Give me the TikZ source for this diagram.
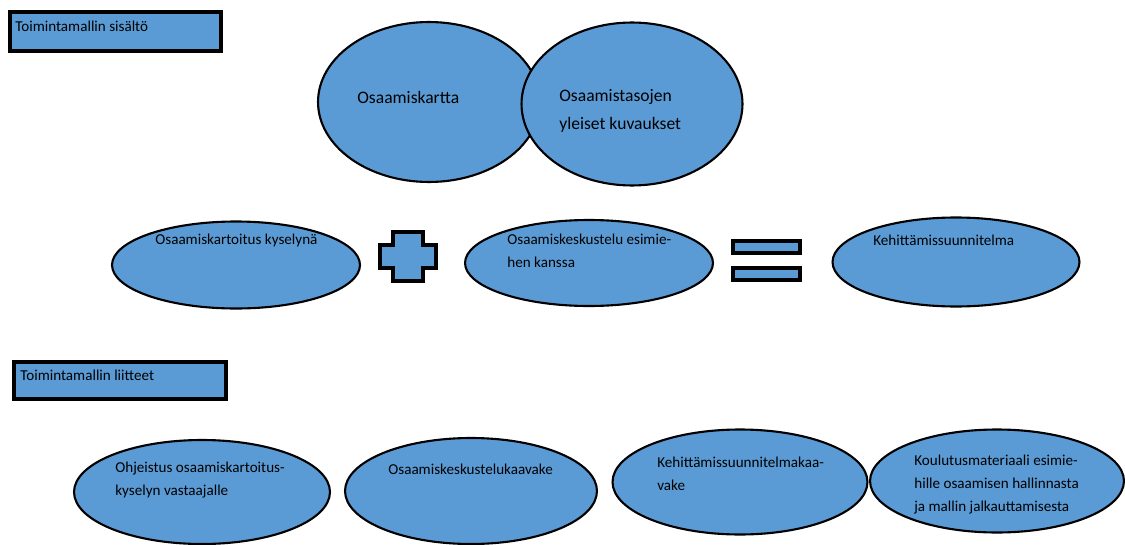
\documentclass[tikz,border=0pt]{standalone}
\usepackage{fontspec}
\setmainfont{Carlito}
\usetikzlibrary{shapes.geometric}
\definecolor{fillblue}{HTML}{5B9BD5}
\newcommand{\px}{0.02cm}

\begin{document}
\begin{tikzpicture}[x = \px, y = -\px,
  oval/.style = {ellipse, draw = black, line width = 1.2pt, fill = fillblue, inner sep = 0pt},
  box/.style = {rectangle, draw = black, line width = 1.8pt, fill = fillblue, inner sep = 0pt},
  txt/.style = {anchor = north west, inner sep = 0pt, align = left, font = \fontsize{8.6}{13}\selectfont},
  bigtxt/.style = {anchor = north west, inner sep = 0pt, align = left, font = \fontsize{10}{16}\selectfont}]

\useasboundingbox (0,0) rectangle (1125,544);

% headings
\node[box, minimum width = 4.22cm, minimum height = 0.78cm] (b1) at (115.5,31.5) {};
\node[txt] (t1) at (15,21) {Toimintamallin sisältö};
\node[box, minimum width = 4.24cm, minimum height = 0.74cm] (b2) at (120,380.5) {};
\node[txt] (t2) at (20,370) {Toimintamallin liitteet};

% top pair
\node[oval, minimum width = 4.44cm, minimum height = 3.2cm] (e1) at (429,102) {};
\node[oval, minimum width = 4.42cm, minimum height = 3.26cm] (e2) at (632,104) {};
\node[bigtxt] (t3) at (357,91) {Osaamiskartta};
\node[bigtxt] (t4) at (559,89) {Osaamistasojen\\yleiset kuvaukset};

% middle row
\node[oval, minimum width = 4.96cm, minimum height = 1.74cm] (e3) at (236,265) {};
\node[oval, minimum width = 4.96cm, minimum height = 1.72cm] (e4) at (589,263) {};
\node[oval, minimum width = 4.94cm, minimum height = 1.78cm] (e5) at (956,262) {};
\node[txt] (t5) at (155,234) {Osaamiskartoitus kyselynä};
\node[txt] (t6) at (507,234) {Osaamiskeskustelu esimie-\\hen kanssa};
\node[txt] (t7) at (873,235) {Kehittämissuunnitelma};

% plus and equals
\coordinate (p) at (408,256.5);
\draw[line width = 1.8pt, fill = fillblue]
  ([xshift = -15*\px, yshift = 24.5*\px]p) -- ([xshift = 15*\px, yshift = 24.5*\px]p)
  -- ([xshift = 15*\px, yshift = 11.5*\px]p) -- ([xshift = 28*\px, yshift = 11.5*\px]p)
  -- ([xshift = 28*\px, yshift = -11.5*\px]p) -- ([xshift = 15*\px, yshift = -11.5*\px]p)
  -- ([xshift = 15*\px, yshift = -24.5*\px]p) -- ([xshift = -15*\px, yshift = -24.5*\px]p)
  -- ([xshift = -15*\px, yshift = -11.5*\px]p) -- ([xshift = -28*\px, yshift = -11.5*\px]p)
  -- ([xshift = -28*\px, yshift = 11.5*\px]p) -- ([xshift = -15*\px, yshift = 11.5*\px]p)
  -- cycle;
\node[box, minimum width = 1.34cm, minimum height = 0.24cm] (q1) at (766.5,247) {};
\node[box, minimum width = 1.34cm, minimum height = 0.24cm] (q2) at (766.5,274) {};

% bottom row
\node[oval, minimum width = 5.12cm, minimum height = 2.08cm] (e6) at (202,492) {};
\node[oval, minimum width = 5.04cm, minimum height = 2.12cm] (e7) at (471,491) {};
\node[oval, minimum width = 5.1cm, minimum height = 2.1cm] (e8) at (740,482) {};
\node[oval, minimum width = 5.08cm, minimum height = 2.06cm] (e9) at (997,481) {};
\node[txt] (t8) at (115,462) {Ohjeistus osaamiskartoitus-\\kyselyn vastaajalle};
\node[txt] (t9) at (388,464) {Osaamiskeskustelukaavake};
\node[txt] (t10) at (657,457) {Kehittämissuunnitelmakaa-\\vake};
\node[txt] (t11) at (914,455) {Koulutusmateriaali esimie-\\hille osaamisen hallinnasta\\ja mallin jalkauttamisesta};

\end{tikzpicture}
\end{document}
